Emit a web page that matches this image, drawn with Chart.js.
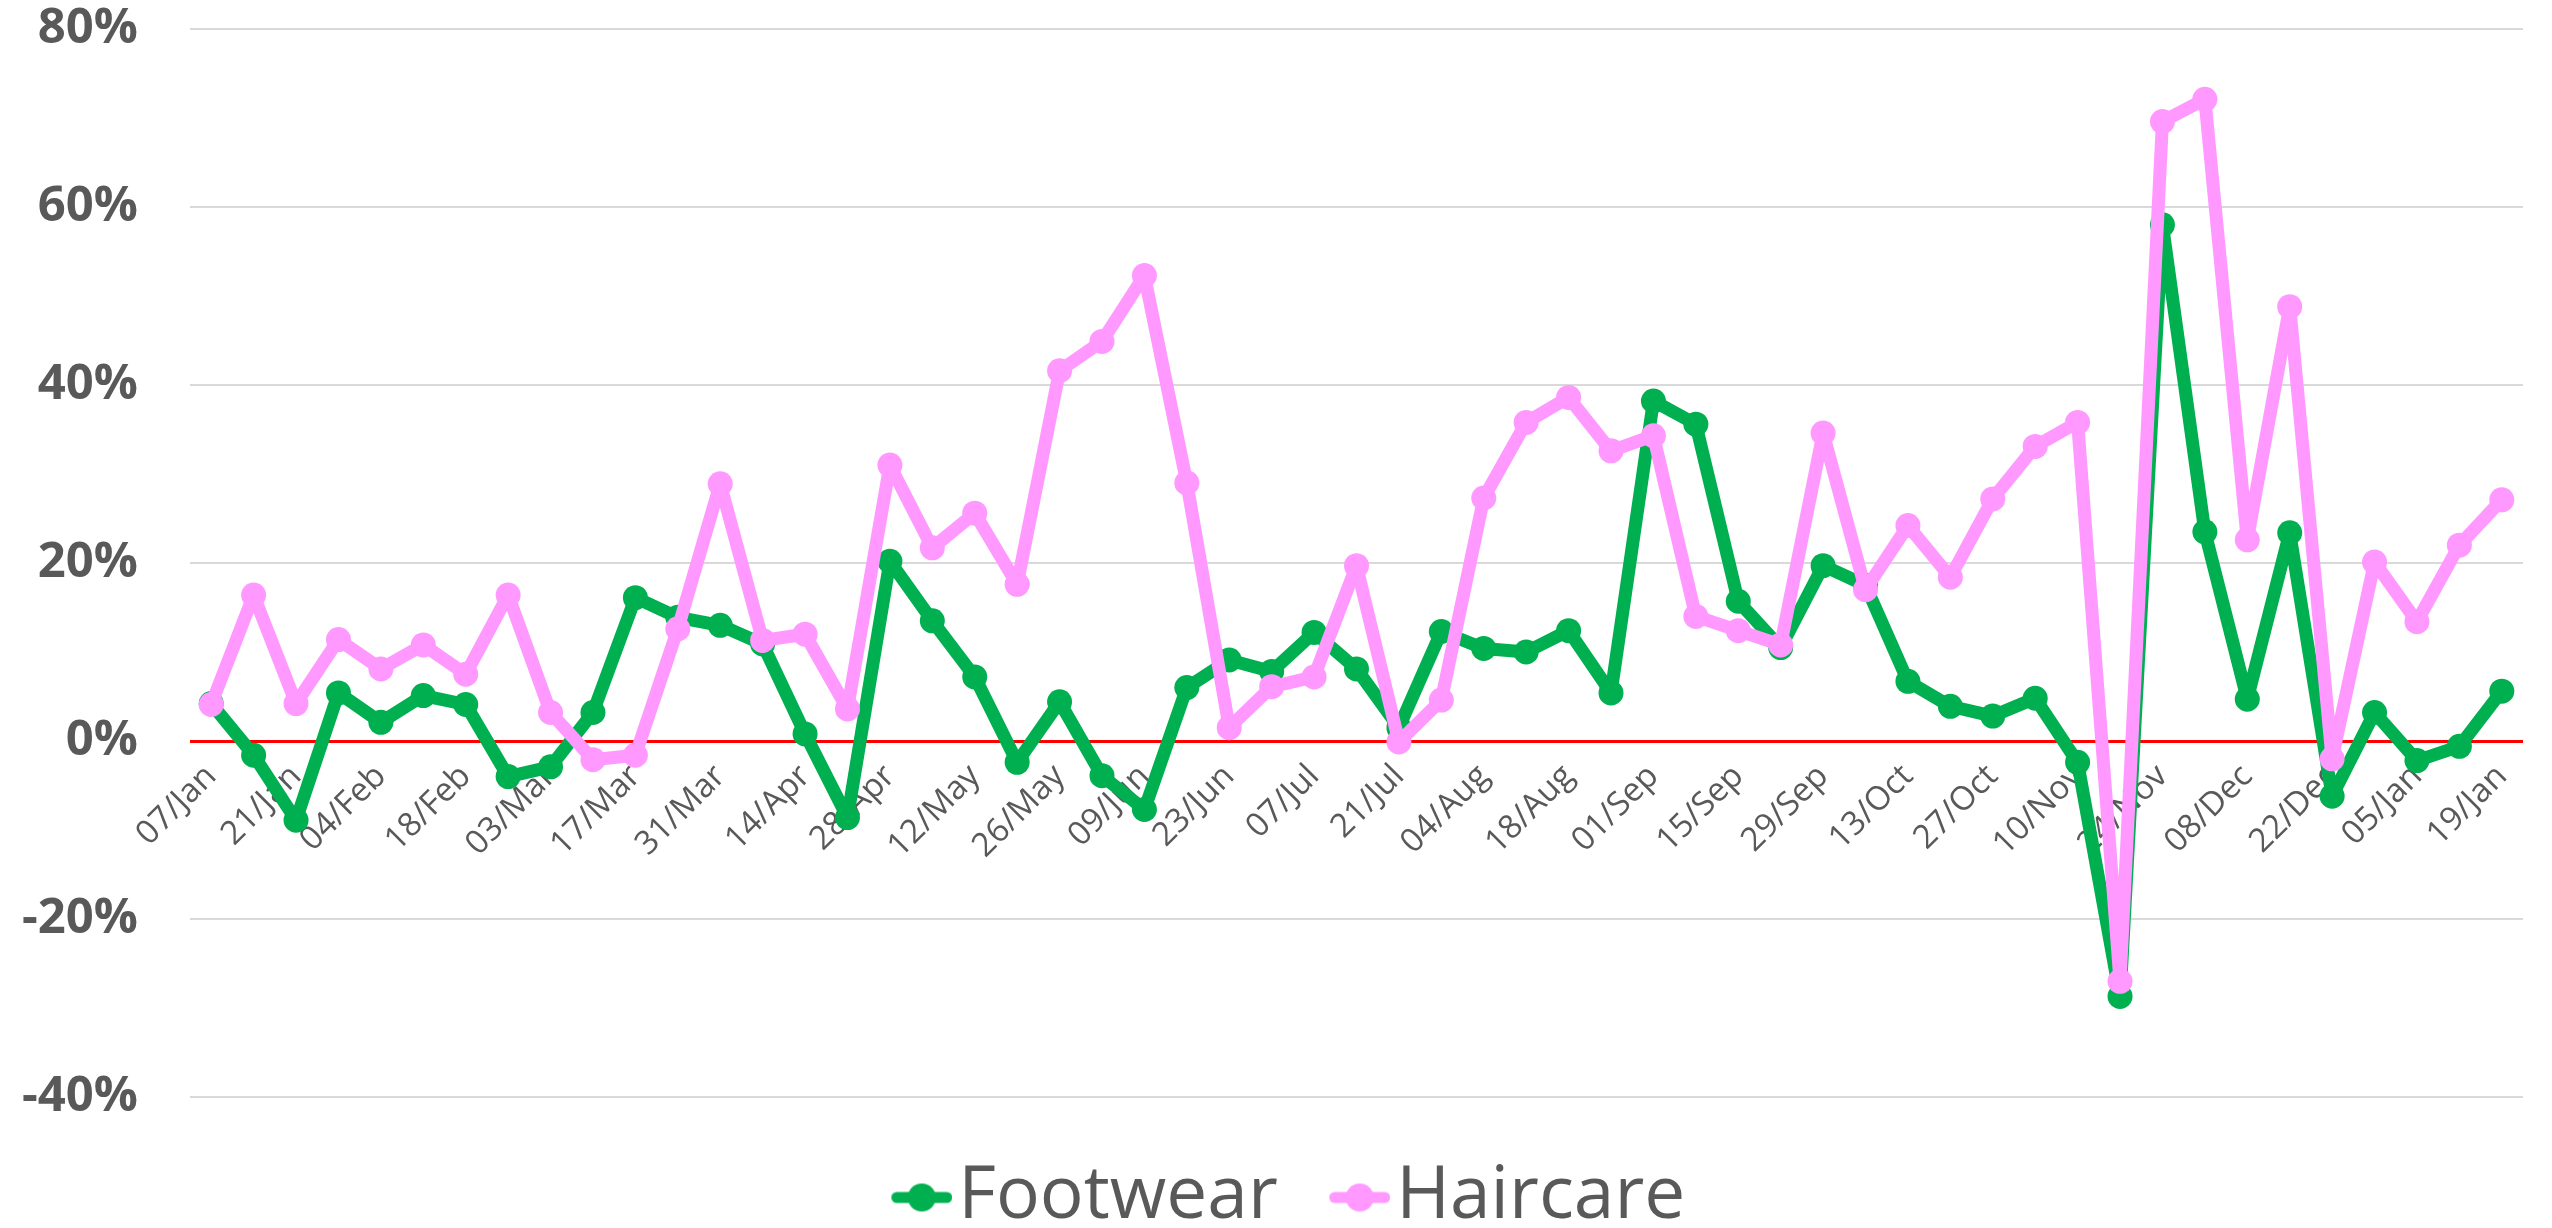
<!DOCTYPE html>
<html>
<head>
<meta charset="utf-8">
<title>Footwear vs Haircare</title>
<script src="https://cdn.jsdelivr.net/npm/chart.js@4.4.1/dist/chart.umd.min.js"></script>
<style>
  html, body { margin: 0; padding: 0; background: #fff; }
  #wrap { width: 2552px; height: 1228px; }
</style>
</head>
<body>
<div id="wrap"><canvas id="chart" width="2552" height="1228"></canvas></div>
<script>
// weekly % change, one entry per week
const WEEKS = [
  '07/Jan', '14/Jan', '21/Jan', '28/Jan', '04/Feb', '11/Feb', '18/Feb', '25/Feb',
  '03/Mar', '10/Mar', '17/Mar', '24/Mar', '31/Mar', '07/Apr', '14/Apr', '21/Apr',
  '28/Apr', '05/May', '12/May', '19/May', '26/May', '02/Jun', '09/Jun', '16/Jun',
  '23/Jun', '30/Jun', '07/Jul', '14/Jul', '21/Jul', '28/Jul', '04/Aug', '11/Aug',
  '18/Aug', '25/Aug', '01/Sep', '08/Sep', '15/Sep', '22/Sep', '29/Sep', '06/Oct',
  '13/Oct', '20/Oct', '27/Oct', '03/Nov', '10/Nov', '17/Nov', '24/Nov', '01/Dec',
  '08/Dec', '15/Dec', '22/Dec', '29/Dec', '05/Jan', '12/Jan', '19/Jan'
];

const FOOTWEAR = [
  4.2, -1.6, -8.9, 5.4, 2.1, 5.1, 4.1, -4.0,
  -2.9, 3.2, 16.1, 13.9, 13.0, 10.9, 0.8, -8.6,
  20.2, 13.5, 7.2, -2.4, 4.4, -3.9, -7.7, 6.0,
  9.1, 7.8, 12.2, 8.1, 1.5, 12.3, 10.4, 10.0,
  12.4, 5.4, 38.2, 35.6, 15.7, 10.5, 19.7, 17.5,
  6.7, 3.9, 2.8, 4.8, -2.4, -28.7, 58.0, 23.5,
  4.7, 23.4, -6.2, 3.2, -2.2, -0.6, 5.6
];

const HAIRCARE = [
  4.1, 16.4, 4.2, 11.4, 8.1, 10.8, 7.5, 16.4,
  3.2, -2.1, -1.6, 12.6, 28.9, 11.3, 12.0, 3.6,
  31.0, 21.7, 25.6, 17.6, 41.6, 44.9, 52.3, 29.0,
  1.5, 6.1, 7.2, 19.7, -0.1, 4.6, 27.3, 35.8,
  38.6, 32.6, 34.3, 14.0, 12.4, 10.8, 34.6, 17.0,
  24.2, 18.4, 27.2, 33.1, 35.8, -27.0, 69.6, 72.1,
  22.6, 48.8, -2.0, 20.1, 13.4, 22.0, 27.1
];

const Y_MIN = -40;
const Y_MAX = 80;
const Y_STEP = 20;

const GREEN = '#00B050';
const PINK = '#FF99FF';
const TEXT = '#595959';
const FONT = "'Open Sans', 'Noto Sans', sans-serif";

// line-with-dot swatch for the legend; the visible part sits right of centre
function legendMarker(color) {
  const c = document.createElement('canvas');
  c.width = 79;
  c.height = 32;
  const g = c.getContext('2d');
  g.strokeStyle = color;
  g.lineWidth = 11;
  g.lineCap = 'round';
  g.beginPath();
  g.moveTo(23.5, 16);
  g.lineTo(73.5, 16);
  g.stroke();
  g.fillStyle = color;
  g.beginPath();
  g.arc(48.5, 16, 14, 0, Math.PI * 2);
  g.fill();
  return c;
}

const markers = [legendMarker(GREEN), legendMarker(PINK)];

const ctx = document.getElementById('chart').getContext('2d');
new Chart(ctx, {
  type: 'line',
  data: {
    labels: WEEKS,
    datasets: [
      {
        label: 'Footwear',
        data: FOOTWEAR,
        borderColor: GREEN,
        backgroundColor: GREEN,
        pointBackgroundColor: GREEN,
        order: 1
      },
      {
        label: 'Haircare',
        data: HAIRCARE,
        borderColor: PINK,
        backgroundColor: PINK,
        pointBackgroundColor: PINK,
        order: 0
      }
    ]
  },
  options: {
    responsive: false,
    animation: false,
    devicePixelRatio: 1,
    // negative right padding only widens the legend box (nudges it right);
    // the plot's right margin comes from the x axis padding below
    layout: { padding: { top: 29, right: -37, left: 0, bottom: 0 } },
    elements: {
      line: { borderWidth: 13, tension: 0, borderJoinStyle: 'round' },
      point: { radius: 12.5, hoverRadius: 12.5, borderWidth: 0 }
    },
    scales: {
      x: {
        position: { y: 0 },
        offset: true,
        grid: { display: false },
        border: { display: false },
        ticks: {
          autoSkip: false,
          minRotation: 45,
          maxRotation: 45,
          padding: 8,
          color: TEXT,
          font: { family: FONT, size: 33 },
          callback: function(v, i) {
            return i % 2 === 0 ? this.getLabelForValue(v) : '';
          }
        },
        afterFit: s => {
          s.height = 0;
          s.paddingRight = 29;
        }
      },
      y: {
        min: Y_MIN,
        max: Y_MAX,
        border: { display: false },
        grid: {
          drawTicks: false,
          lineWidth: c => c.tick.value === 0 ? 3 : 2,
          color: c => c.tick.value === 0 ? '#FF0000' : '#D9D9D9'
        },
        ticks: {
          stepSize: Y_STEP,
          padding: 52,
          color: TEXT,
          font: { family: FONT, size: 49, weight: 'bold' },
          callback: v => v + '%'
        },
        // fixed axis width; keep the label gap out of the vertical padding
        afterFit: s => {
          s.width = 190;
          s.paddingTop = 29;
          s.paddingBottom = 29;
        }
      }
    },
    plugins: {
      tooltip: { enabled: false },
      legend: {
        position: 'bottom',
        maxHeight: 131,
        labels: {
          usePointStyle: true,
          boxWidth: 18,
          padding: 64,
          color: TEXT,
          font: { family: FONT, size: 73 },
          sort: (a, b) => a.datasetIndex - b.datasetIndex,
          generateLabels: chart => {
            const items = Chart.defaults.plugins.legend.labels.generateLabels(chart);
            items.forEach(it => { it.pointStyle = markers[it.datasetIndex]; });
            return items;
          }
        }
      }
    }
  }
});
</script>
</body>
</html>
